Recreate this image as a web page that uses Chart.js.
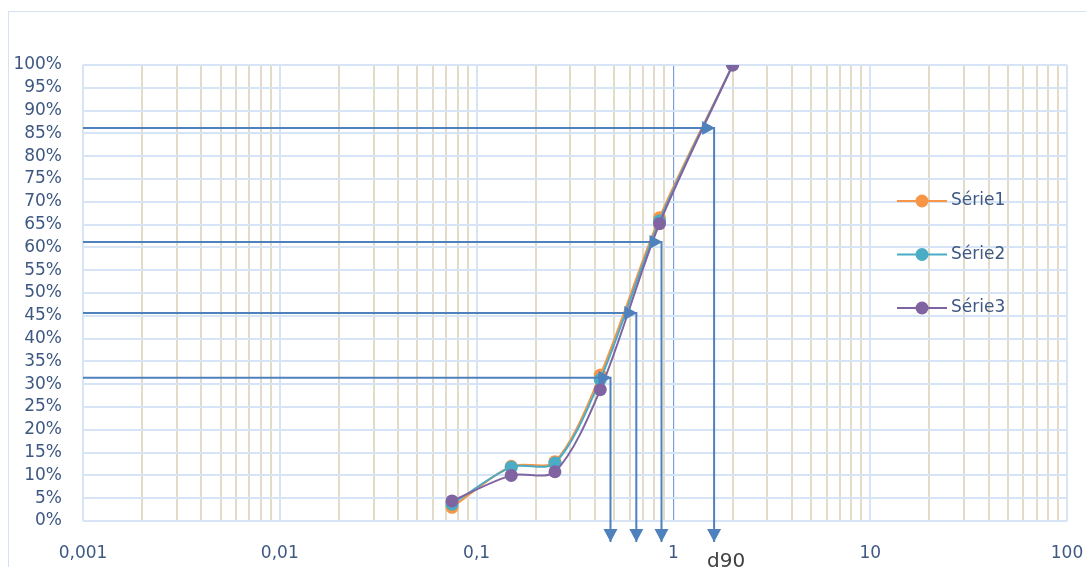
<!DOCTYPE html>
<html>
<head>
<meta charset="utf-8">
<script src="https://cdn.jsdelivr.net/npm/chart.js@4.4.0/dist/chart.umd.min.js"></script>
<style>
  body { margin: 0; background: #fff; }
  #wrap { position: relative; width: 1086px; height: 567px; overflow: hidden; }
  #frame { position: absolute; left: 8px; top: 11px; width: 1100px; height: 600px;
           border-left: 1px solid #d3e1f1; border-top: 1px solid #d3e1f1; }
  canvas { position: absolute; left: 0; top: 0; }
</style>
</head>
<body>
<div id="wrap"><div id="frame"></div><canvas id="chart" width="1086" height="567"></canvas></div>
<script>
// sieve sizes (mm) and cumulative passing (%)
var sizes  = [0.075, 0.15, 0.25, 0.425, 0.85, 2];
var serie1 = [3.0, 12.0, 13.0, 32.0, 66.5, 100];
var serie2 = [3.7, 11.8, 12.7, 31.0, 65.8, 100];
var serie3 = [4.4, 10.0, 10.8, 28.8, 65.2, 100];
var seriesNames  = ['Série1', 'Série2', 'Série3'];
var seriesColors = ['#F79646', '#4BACC6', '#8064A2'];

// reading lines (level %, size mm) ending in arrows
var readLevels = [86.2, 61.2, 45.6, 31.4];
var readSizes  = [1.61, 0.87, 0.648, 0.479];
var readLabels = ['d90', '', '', ''];
var arrowDepth = -4.6;

// log axis
var decades      = [0.001, 0.01, 0.1, 1, 10, 100];
var decadeLabels = ['0,001', '0,01', '0,1', '1', '10', '100'];
var xTicks = [];
decades.forEach(function(d, i) {
  if (i == decades.length - 1) { xTicks.push(d); return; }
  for (var m = 1; m <= 9; m++) xTicks.push(Number((m * d).toPrecision(3)));
});

var textColor = '#3e5882';
var blue = '#4F81BD';

var datasets = [];
[serie1, serie2, serie3].forEach(function(s, i) {
  datasets.push({
    label: seriesNames[i],
    data: sizes.map(function(x, j) { return {x: x, y: s[j]}; }),
    borderColor: seriesColors[i],
    backgroundColor: seriesColors[i],
    borderWidth: 2,
    pointRadius: 6.5,
    pointBorderWidth: 0,
    tension: 0.3,
    order: 3 - i
  });
});
readLevels.forEach(function(lv, i) {
  var s = readSizes[i];
  datasets.push({
    label: 'lecture' + i,
    data: [{x: 0.001, y: lv}, {x: s, y: lv}, {x: s, y: arrowDepth}],
    borderColor: blue,
    borderWidth: 2,
    pointRadius: 0,
    tension: 0,
    clip: false,
    order: 0
  });
});

function triangle(ctx, tipX, tipY, dx, dy) {
  // dx,dy: unit direction of the arrow
  var len = 13, half = 7;
  var bx = tipX - dx * len, by = tipY - dy * len;
  ctx.beginPath();
  ctx.moveTo(tipX, tipY);
  ctx.lineTo(bx - dy * half, by + dx * half);
  ctx.lineTo(bx + dy * half, by - dx * half);
  ctx.closePath();
  ctx.fill();
}

/** arrows, d90 caption and the legend drawn inside the plot */
var overlay = {
  id: 'overlay',
  afterDatasetsDraw: function(chart) {
    var ctx = chart.ctx;
    var xs = chart.scales.x, ys = chart.scales.y;
    ctx.save();
    ctx.fillStyle = blue;
    readLevels.forEach(function(lv, i) {
      var px = xs.getPixelForValue(readSizes[i]);
      triangle(ctx, px + 1, ys.getPixelForValue(lv), 1, 0);
      triangle(ctx, px, ys.getPixelForValue(arrowDepth), 0, 1);
    });
    ctx.font = '20px "DejaVu Sans"';
    ctx.fillStyle = '#404040';
    ctx.textBaseline = 'top';
    readLabels.forEach(function(lab, i) {
      if (!lab) return;
      ctx.fillText(lab, xs.getPixelForValue(readSizes[i]) - 7, ys.bottom + 31);
    });
    ctx.font = '17px "DejaVu Sans"';
    ctx.textBaseline = 'middle';
    seriesNames.forEach(function(name, i) {
      var ly = 201 + i * 53.5;
      ctx.strokeStyle = seriesColors[i];
      ctx.lineWidth = 2;
      ctx.beginPath();
      ctx.moveTo(897, ly);
      ctx.lineTo(947, ly);
      ctx.stroke();
      ctx.fillStyle = seriesColors[i];
      ctx.beginPath();
      ctx.arc(922, ly, 6.5, 0, Math.PI * 2);
      ctx.fill();
      ctx.fillStyle = textColor;
      ctx.fillText(name, 951, ly);
    });
    ctx.restore();
  }
};

var ctx = document.getElementById('chart').getContext('2d');
window.chart = new Chart(ctx, {
  type: 'line',
  data: {datasets: datasets},
  plugins: [overlay],
  options: {
    responsive: false,
    animation: false,
    events: [],
    layout: {padding: {left: 8, top: 65, right: 0, bottom: 0}},
    plugins: {legend: {display: false}, tooltip: {enabled: false}},
    scales: {
      x: {
        type: 'logarithmic',
        min: 0.001,
        max: 100,
        afterBuildTicks: function(s) {
          s.ticks = xTicks.map(function(v) { return {value: v}; });
        },
        afterFit: function(s) {
          s.height = 46;
          s.paddingLeft = 0;
          s.paddingRight = 19;
        },
        border: {display: false},
        grid: {
          drawTicks: false,
          lineWidth: function(c) { return (c.tick && c.tick.value === 1) ? 1.2 : 2; },
          color: function(c) {
            var v = c.tick ? c.tick.value : 0;
            if (v === 1) return '#7f9fd6';
            return decades.indexOf(v) >= 0 ? '#d6e4f6' : '#e1dbc7';
          }
        },
        ticks: {
          autoSkip: false,
          maxRotation: 0,
          padding: 22,
          color: textColor,
          font: {family: 'DejaVu Sans', size: 17},
          callback: function(v) {
            var k = decades.indexOf(v);
            return k >= 0 ? decadeLabels[k] : '';
          }
        }
      },
      y: {
        min: 0,
        max: 100,
        afterFit: function(s) { s.width = 75; },
        border: {display: false},
        grid: {drawTicks: false, color: '#d6e4f6', lineWidth: 2},
        ticks: {
          stepSize: 5,
          autoSkip: false,
          padding: 21,
          color: textColor,
          font: {family: 'DejaVu Sans', size: 17},
          callback: function(v) { return v + '%'; }
        }
      }
    }
  }
});
</script>
</body>
</html>
